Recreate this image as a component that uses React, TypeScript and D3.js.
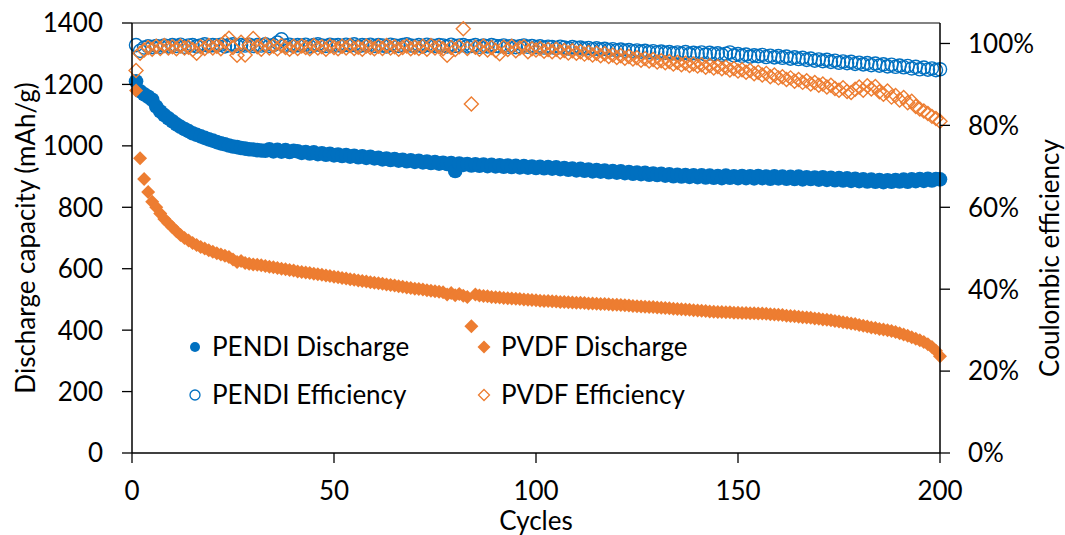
import React from "react";
import * as d3 from "d3";

// discharge capacity (mAh/g) per cycle, cycles 1..200
const pendiDischarge = [
  1210, 1178, 1168, 1160, 1150, 1128, 1112, 1100, 1090, 1080,
  1070, 1062, 1055, 1048, 1041, 1036, 1031, 1026, 1021, 1017,
  1012, 1008, 1005, 1001, 998, 996, 993, 991, 989, 988,
  986, 985, 984, 989, 982, 987, 981, 986, 980, 984,
  982, 977, 980, 975, 979, 973, 976, 971, 974, 969,
  972, 967, 970, 965, 968, 963, 966, 961, 964, 959,
  961, 956, 959, 954, 957, 952, 955, 950, 953, 948,
  951, 946, 949, 944, 947, 942, 945, 941, 944, 918,
  942, 938, 941, 936, 940, 935, 939, 934, 938, 933,
  937, 932, 936, 931, 935, 930, 934, 929, 933, 928,
  932, 927, 931, 926, 930, 924, 928, 922, 926, 920,
  925, 919, 923, 917, 921, 916, 920, 914, 918, 913,
  917, 911, 915, 909, 913, 908, 912, 906, 910, 905,
  909, 903, 907, 901, 906, 900, 905, 899, 904, 898,
  904, 897, 903, 896, 902, 895, 903, 896, 901, 895,
  902, 895, 901, 894, 902, 895, 900, 893, 901, 894,
  900, 893, 899, 892, 900, 891, 898, 892, 897, 890,
  898, 889, 896, 888, 895, 887, 894, 886, 893, 885,
  891, 884, 890, 883, 889, 882, 888, 883, 889, 884,
  890, 883, 891, 885, 892, 886, 893, 887, 892, 891,
];

const pvdfDischarge = [
  1180, 960, 892, 850, 818, 800, 780, 762, 748, 735,
  722, 710, 700, 692, 684, 677, 671, 666, 660, 655,
  650, 646, 642, 638, 630, 622, 625, 619, 616, 614,
  613, 611, 609, 606, 605, 602, 600, 598, 596, 594,
  591, 589, 588, 586, 584, 582, 580, 578, 576, 574,
  572, 570, 568, 566, 564, 562, 560, 558, 556, 554,
  553, 551, 549, 547, 545, 543, 541, 539, 537, 535,
  534, 532, 530, 528, 527, 525, 523, 516, 521, 514,
  518, 512, 508, 413, 516, 513, 511, 510, 508, 507,
  506, 505, 504, 503, 502, 501, 500, 499, 498, 497,
  496, 495, 495, 494, 493, 492, 492, 491, 490, 489,
  489, 488, 487, 487, 486, 485, 485, 484, 483, 483,
  482, 481, 480, 479, 478, 477, 476, 475, 475, 474,
  473, 472, 471, 470, 469, 468, 467, 466, 465, 464,
  463, 462, 461, 460, 459, 459, 458, 458, 457, 457,
  456, 456, 455, 455, 454, 454, 453, 452, 451, 450,
  449, 447, 446, 445, 444, 442, 441, 440, 438, 437,
  435, 434, 432, 430, 428, 426, 424, 422, 420, 417,
  414, 412, 409, 407, 404, 402, 400, 397, 394, 390,
  386, 382, 377, 372, 367, 361, 354, 345, 333, 315,
];

// coulombic efficiency (%) per cycle
const pendiEfficiency = [
  99.6, 98.2, 99.0, 99.3, 99.1, 99.4, 99.2, 99.5, 99.3, 99.6,
  99.4, 99.7, 99.2, 99.5, 99.6, 99.3, 99.5, 99.8, 99.4, 99.6,
  99.5, 99.7, 99.3, 99.6, 99.8, 99.4, 99.6, 99.5, 99.7, 99.4,
  99.6, 99.5, 99.8, 99.4, 99.6, 100.2, 101.0, 99.5, 99.7, 99.4,
  99.6, 99.5, 99.7, 99.3, 99.6, 99.8, 99.5, 99.4, 99.7, 99.5,
  99.6, 99.4, 99.7, 99.5, 99.8, 99.3, 99.6, 99.5, 99.7, 99.4,
  99.6, 99.5, 99.3, 99.7, 99.5, 99.4, 99.6, 99.8, 99.5, 99.4,
  99.6, 99.3, 99.7, 99.5, 99.4, 99.6, 99.5, 99.3, 99.7, 99.4,
  99.5, 99.6, 99.3, 99.4, 99.6, 99.2, 99.5, 99.3, 99.6, 99.4,
  99.3, 99.5, 99.2, 99.4, 99.1, 99.3, 99.5, 99.2, 99.4, 99.1,
  99.3, 99.0, 99.2, 99.1, 98.9, 99.2, 99.0, 98.8, 99.1, 98.9,
  99.0, 98.7, 98.9, 98.6, 98.8, 98.5, 98.7, 98.4, 98.6, 98.3,
  98.5, 98.2, 98.4, 98.1, 98.3, 98.0, 98.2, 97.9, 98.1, 97.8,
  98.0, 97.7, 97.9, 97.6, 97.8, 97.5, 97.9, 97.4, 97.7, 97.5,
  97.8, 97.3, 97.7, 97.4, 97.6, 97.2, 97.5, 97.8, 97.1, 97.4,
  97.0, 97.3, 96.8, 97.1, 96.9, 97.2, 96.7, 97.0, 96.6, 96.9,
  96.5, 96.8, 96.3, 96.6, 96.2, 96.5, 96.0, 96.3, 95.8, 96.1,
  95.7, 96.0, 95.5, 95.8, 95.3, 95.6, 95.2, 95.5, 95.0, 95.3,
  94.9, 95.2, 94.7, 95.1, 94.6, 94.9, 94.4, 94.8, 94.3, 94.6,
  94.2, 94.5, 93.9, 94.3, 93.7, 94.1, 93.6, 93.9, 93.5, 93.7,
];

const pvdfEfficiency = [
  93.4, 97.6, 98.4, 99.0, 98.6, 99.3, 98.8, 99.5, 98.9, 99.2,
  98.7, 99.4, 98.9, 99.1, 98.5, 97.6, 99.2, 98.8, 99.5, 98.9,
  99.3, 98.7, 100.4, 101.3, 99.0, 97.1, 100.3, 97.2, 99.6, 101.2,
  99.2, 98.6, 99.8, 98.9, 99.4, 98.7, 99.5, 99.0, 98.6, 99.3,
  98.8, 99.4, 99.0, 98.7, 99.5, 98.9, 99.2, 98.6, 99.4, 99.0,
  98.7, 99.3, 98.9, 99.5, 98.8, 99.1, 98.6, 99.4, 99.0, 98.7,
  99.3, 98.8, 99.5, 98.9, 99.2, 98.6, 99.0, 99.4, 98.7, 99.1,
  98.8, 99.3, 98.6, 99.5, 98.9, 99.2, 98.7, 97.1, 99.0, 98.5,
  99.2, 103.6, 98.8, 85.2, 99.1, 98.6, 99.4, 98.4, 99.0, 98.3,
  97.5, 99.1, 98.5, 99.3, 98.2, 98.9, 99.2, 98.0, 98.7, 98.4,
  98.8, 98.1, 98.5, 98.0, 98.6, 97.9, 98.3, 97.7, 98.2, 97.6,
  98.0, 97.4, 97.8, 97.2, 97.6, 97.0, 97.5, 96.8, 97.2, 96.6,
  97.0, 96.4, 96.8, 96.2, 96.5, 95.9, 96.3, 95.7, 96.1, 95.5,
  95.8, 95.3, 95.6, 95.0, 95.4, 94.8, 95.2, 94.6, 95.0, 94.5,
  94.8, 94.2, 94.6, 94.0, 94.4, 93.8, 94.2, 93.5, 93.9, 93.3,
  93.6, 93.0, 93.4, 92.6, 93.0, 92.3, 92.7, 91.9, 92.3, 91.6,
  91.9, 91.2, 91.6, 90.8, 91.2, 90.5, 90.9, 90.1, 90.5, 89.8,
  90.1, 89.4, 89.8, 89.0, 88.6, 89.2, 88.3, 88.0, 88.8, 89.4,
  88.6, 89.7, 88.9, 89.5, 88.2, 87.6, 88.4, 86.9, 87.3, 86.2,
  86.8, 85.5, 85.9, 84.6, 84.0, 83.5, 82.9, 82.2, 81.7, 81.0,
];

const cycleTicks = [0, 50, 100, 150, 200];
const capacityTicks = [0, 200, 400, 600, 800, 1000, 1200, 1400];
const efficiencyTicks = [0, 20, 40, 60, 80, 100];

const BLUE = "#0070C0";
const ORANGE = "#ED7D31";
const FONT = "Lato, 'Noto Sans', sans-serif";

const diamond = (r: number) => `M0,${-r}L${r},0L0,${r}L${-r},0Z`;

export default function App() {
  const width = 1065;
  const height = 535;
  const plot = { left: 132, right: 940, top: 23, bottom: 453 };

  const x = d3.scaleLinear().domain([0, 200]).range([plot.left, plot.right]);
  const yCap = d3.scaleLinear().domain([0, 1400]).range([plot.bottom, plot.top]);
  const yEff = d3.scaleLinear().domain([0, 105]).range([plot.bottom, plot.top]);

  return (
    <svg
      width={width}
      height={height}
      style={{ position: "absolute", left: 0, top: 0, background: "#fff" }}
      fontFamily={FONT}
    >
      {/* plot frame */}
      <line x1={plot.left} x2={plot.right} y1={plot.top} y2={plot.top} stroke="#595959" strokeWidth={1.5} />

      {/* series */}
      <g>
        {pendiDischarge.map((v, i) => (
          <circle key={"pd" + i} cx={x(i + 1)} cy={yCap(v)} r={7.3} fill={BLUE} />
        ))}
      </g>
      <g>
        {pvdfDischarge.map((v, i) => (
          <path key={"vd" + i} d={diamond(7)} transform={`translate(${x(i + 1)},${yCap(v)})`} fill={ORANGE} />
        ))}
      </g>
      <g>
        {pendiEfficiency.map((v, i) => (
          <circle key={"pe" + i} cx={x(i + 1)} cy={yEff(v)} r={6.6} fill="none" stroke={BLUE} strokeWidth={1.4} />
        ))}
      </g>
      <g>
        {pvdfEfficiency.map((v, i) => (
          <path
            key={"ve" + i}
            d={diamond(7)}
            transform={`translate(${x(i + 1)},${yEff(v)})`}
            fill="none"
            stroke={ORANGE}
            strokeWidth={1.4}
          />
        ))}
      </g>

      {/* left axis */}
      <line x1={plot.left} x2={plot.left} y1={plot.top} y2={plot.bottom} stroke="#000" strokeWidth={1.5} />
      {capacityTicks.map((t) => (
        <g key={"yl" + t}>
          <line x1={plot.left - 10} x2={plot.left} y1={yCap(t)} y2={yCap(t)} stroke="#000" strokeWidth={1.3} />
          <text x={plot.left - 29} y={yCap(t)} dy="0.36em" textAnchor="end" fontSize={26} fill="#000">
            {t}
          </text>
        </g>
      ))}
      <text
        transform={`translate(26,${(plot.top + plot.bottom) / 2}) rotate(-90)`}
        dy="0.36em"
        textAnchor="middle"
        fontSize={26}
        fill="#000"
      >
        Discharge capacity (mAh/g)
      </text>

      {/* right axis */}
      <line x1={plot.right} x2={plot.right} y1={plot.top} y2={plot.bottom} stroke="#000" strokeWidth={1.5} />
      {efficiencyTicks.map((t) => (
        <g key={"yr" + t}>
          <line x1={plot.right} x2={plot.right + 10} y1={yEff(t)} y2={yEff(t)} stroke="#000" strokeWidth={1.3} />
          <text x={plot.right + 28} y={yEff(t)} dy="0.36em" textAnchor="start" fontSize={26} fill="#000">
            {t + "%"}
          </text>
        </g>
      ))}
      <text
        transform={`translate(1050,258) rotate(-90)`}
        dy="0.36em"
        textAnchor="middle"
        fontSize={26}
        fill="#000"
      >
        Coulombic efficiency
      </text>

      {/* bottom axis */}
      <line x1={plot.left} x2={plot.right} y1={plot.bottom} y2={plot.bottom} stroke="#000" strokeWidth={1.5} />
      {cycleTicks.map((t) => (
        <g key={"x" + t}>
          <line x1={x(t)} x2={x(t)} y1={plot.bottom} y2={plot.bottom + 10} stroke="#000" strokeWidth={1.3} />
          <text x={x(t)} y={491} dy="0.36em" textAnchor="middle" fontSize={26} fill="#000">
            {t}
          </text>
        </g>
      ))}
      <text x={(plot.left + plot.right) / 2} y={521} dy="0.36em" textAnchor="middle" fontSize={26} fill="#000">
        Cycles
      </text>

      {/* legend */}
      <g fontSize={26} fill="#000">
        <circle cx={195} cy={347} r={5} fill={BLUE} />
        <text x={212} y={347} dy="0.36em">PENDI Discharge</text>
        <path d={diamond(6.5)} transform="translate(484,347)" fill={ORANGE} />
        <text x={501} y={347} dy="0.36em">PVDF Discharge</text>
        <circle cx={195} cy={395} r={5} fill="none" stroke={BLUE} strokeWidth={1.3} />
        <text x={212} y={395} dy="0.36em">PENDI Efficiency</text>
        <path d={diamond(5.5)} transform="translate(484,395)" fill="none" stroke={ORANGE} strokeWidth={1.3} />
        <text x={501} y={395} dy="0.36em">PVDF Efficiency</text>
      </g>
    </svg>
  );
}
